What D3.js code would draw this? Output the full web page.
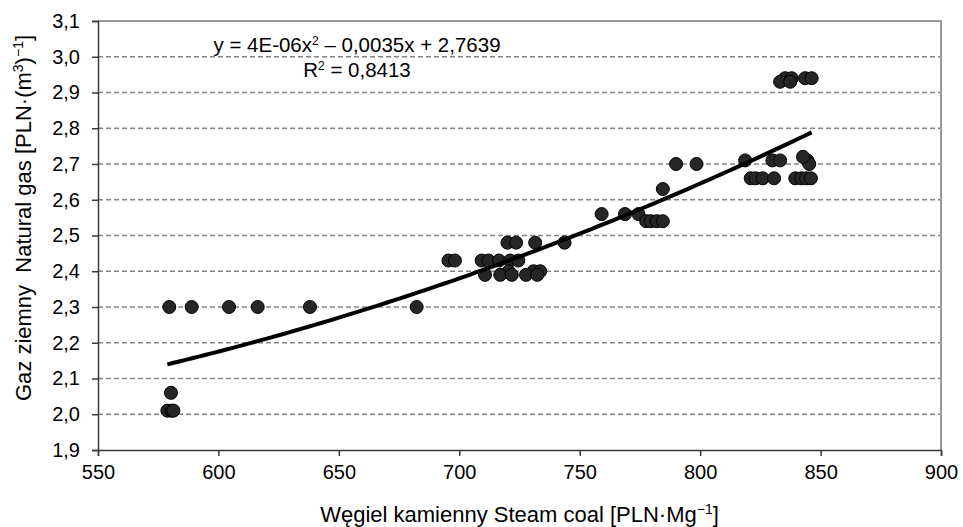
<!DOCTYPE html>
<html>
<head>
<meta charset="utf-8">
<script src="https://cdn.jsdelivr.net/npm/d3@7"></script>
<style>
  body { margin: 0; background: #fff; }
  text { font-family: "Liberation Sans", Arial, sans-serif; fill: #000; }
</style>
</head>
<body>
<svg class="scatter-chart" width="963" height="527"></svg>
<script>
// Steam coal price [PLN/Mg] vs natural gas price [PLN/m3]
const coal = [
  579.6, 588.9, 604.4, 616.3, 638.0, 682.3,
  580.3,
  578.8, 580.6, 581.3,
  695.5, 698.2, 709.3, 712.1, 716.5, 721.1, 724.5,
  720.0, 723.6, 731.5, 743.7,
  720.5, 730.8, 733.6,
  710.7, 717.0, 721.8, 727.7, 732.4,
  759.1, 768.8, 774.4,
  777.6, 779.5, 782.0, 784.5,
  784.5,
  790.0, 798.5,
  818.7, 830.0, 833.2, 844.5, 845.3,
  842.7,
  821.0, 823.0, 826.0, 830.7, 839.5, 842.0, 844.0, 846.0,
  835.3, 838.0, 843.6, 846.3,
  833.2, 837.4
];
const gas = [
  2.30, 2.30, 2.30, 2.30, 2.30, 2.30,
  2.06,
  2.01, 2.01, 2.01,
  2.43, 2.43, 2.43, 2.43, 2.43, 2.43, 2.43,
  2.48, 2.48, 2.48, 2.48,
  2.40, 2.40, 2.40,
  2.39, 2.39, 2.39, 2.39, 2.39,
  2.56, 2.56, 2.56,
  2.54, 2.54, 2.54, 2.54,
  2.63,
  2.70, 2.70,
  2.71, 2.71, 2.71, 2.71, 2.70,
  2.72,
  2.66, 2.66, 2.66, 2.66, 2.66, 2.66, 2.66, 2.66,
  2.94, 2.94, 2.94, 2.94,
  2.93, 2.93
];
const xTicks = [550, 600, 650, 700, 750, 800, 850, 900];
const yTicks = [1.9, 2.0, 2.1, 2.2, 2.3, 2.4, 2.5, 2.6, 2.7, 2.8, 2.9, 3.0, 3.1];
const equationText = ["y = 4E-06x", "2", " \u2013 0,0035x + 2,7639"];
const r2Text = ["R", "2", " = 0,8413"];

scatterChart();

function scatterChart(margin = { top: 21, right: 22, bottom: 77, left: 98 }) {
  const svg = d3.select(".scatter-chart");
  const width = +svg.attr("width");
  const height = +svg.attr("height");

  const x = d3.scaleLinear().domain([550, 900]).range([margin.left, width - margin.right]);
  const y = d3.scaleLinear().domain([1.9, 3.1]).range([height - margin.bottom, margin.top]);

  const comma = (v) => d3.format(".1f")(v).replace(".", ",");

  // Grid lines
  svg.append("g")
    .selectAll("line")
    .data(yTicks.filter((d) => d > 1.95 && d < 3.05))
    .join("line")
    .attr("x1", margin.left)
    .attr("x2", width - margin.right)
    .attr("y1", (d) => y(d))
    .attr("y2", (d) => y(d))
    .attr("stroke", "#858585")
    .attr("stroke-width", 1.4)
    .attr("stroke-dasharray", "5,3");

  // Plot frame top / right
  svg.append("path")
    .attr("d", `M${margin.left},${y(3.1)}H${x(900)}V${y(1.9)}`)
    .attr("fill", "none")
    .attr("stroke", "#9a9a9a")
    .attr("stroke-width", 2);

  // Y axis
  svg.append("g")
    .attr("transform", `translate(${margin.left},0)`)
    .call(d3.axisLeft(y).tickValues(yTicks).tickSize(6).tickPadding(12).tickFormat(comma))
    .call((g) => g.selectAll("line, path").attr("stroke", "#3a3a3a").attr("stroke-width", 1.5))
    .call((g) => g.selectAll("text").attr("font-size", "20px").attr("font-family", null).attr("fill", "#000"));

  // X axis
  svg.append("g")
    .attr("transform", `translate(0,${height - margin.bottom})`)
    .call(d3.axisBottom(x).tickValues(xTicks).tickSize(6).tickPadding(9).tickFormat(d3.format("d")))
    .call((g) => g.selectAll("line, path").attr("stroke", "#3a3a3a").attr("stroke-width", 1.5))
    .call((g) => g.selectAll("text").attr("font-size", "20px").attr("font-family", null).attr("fill", "#000"));

  // Points
  const points = coal.map((c, i) => ({ coal: c, gas: gas[i] }));
  svg.append("g")
    .selectAll("circle")
    .data(points)
    .join("circle")
    .attr("cx", (d) => x(d.coal))
    .attr("cy", (d) => y(d.gas))
    .attr("r", 6.5)
    .attr("fill", "#262626")
    .attr("stroke", "#000")
    .attr("stroke-width", 1);

  // Polynomial (2nd order) trend line, least squares on the points
  const mx = d3.mean(coal);
  const S = (f) => d3.sum(points, f);
  const n = points.length;
  const s1 = S((d) => d.coal - mx), s2 = S((d) => (d.coal - mx) ** 2);
  const s3 = S((d) => (d.coal - mx) ** 3), s4 = S((d) => (d.coal - mx) ** 4);
  const t0 = S((d) => d.gas), t1 = S((d) => d.gas * (d.coal - mx));
  const t2 = S((d) => d.gas * (d.coal - mx) ** 2);
  const [c0, c1, c2] = solve3(
    [[n, s1, s2], [s1, s2, s3], [s2, s3, s4]],
    [t0, t1, t2]
  );
  const fit = (v) => c0 + c1 * (v - mx) + c2 * (v - mx) ** 2;
  const [xmin, xmax] = d3.extent(coal);
  const curve = d3.range(0, 101).map((k) => xmin + ((xmax - xmin) * k) / 100);

  svg.append("path")
    .datum(curve)
    .attr("fill", "none")
    .attr("stroke", "#000")
    .attr("stroke-width", 4)
    .attr("d", d3.line().x((d) => x(d)).y((d) => y(fit(d))));

  // Equation label
  const eq = svg.append("g").attr("font-size", "20.5px").attr("text-anchor", "middle");
  [[equationText, 52], [r2Text, 77]].forEach(([parts, yy]) => {
    const t = eq.append("text").attr("x", 357).attr("y", yy).style("white-space", "pre");
    t.append("tspan").text(parts[0]);
    t.append("tspan").attr("font-size", "12px").attr("dy", -7).text(parts[1]);
    t.append("tspan").attr("dy", 7).text(parts[2]);
  });

  // Axis titles
  const xt = svg.append("text")
    .attr("x", (margin.left + width - margin.right) / 2)
    .attr("y", 522)
    .attr("text-anchor", "middle")
    .attr("font-size", "22px");
  xt.append("tspan").text("Węgiel kamienny Steam coal [PLN·Mg");
  xt.append("tspan").attr("font-size", "14px").attr("dy", -8).text("\u22121");
  xt.append("tspan").attr("dy", 8).text("]");

  const yt = svg.append("text")
    .attr("transform", "translate(31,218) rotate(-90)")
    .attr("text-anchor", "middle")
    .attr("font-size", "22px")
    .style("white-space", "pre");
  yt.append("tspan").text("Gaz ziemny  Natural gas [PLN·(m");
  yt.append("tspan").attr("font-size", "14px").attr("dy", -8).text("3");
  yt.append("tspan").attr("dy", 8).text(")");
  yt.append("tspan").attr("font-size", "14px").attr("dy", -8).text("\u22121");
  yt.append("tspan").attr("dy", 8).text("]");
}

function solve3(A, b) {
  const M = A.map((row, i) => [...row, b[i]]);
  for (let i = 0; i < 3; i++) {
    let p = i;
    for (let k = i + 1; k < 3; k++) if (Math.abs(M[k][i]) > Math.abs(M[p][i])) p = k;
    [M[i], M[p]] = [M[p], M[i]];
    for (let k = i + 1; k < 3; k++) {
      const f = M[k][i] / M[i][i];
      for (let j = i; j < 4; j++) M[k][j] -= f * M[i][j];
    }
  }
  const xs = [0, 0, 0];
  for (let i = 2; i >= 0; i--) {
    let s = M[i][3];
    for (let j = i + 1; j < 3; j++) s -= M[i][j] * xs[j];
    xs[i] = s / M[i][i];
  }
  return xs;
}
</script>
</body>
</html>
